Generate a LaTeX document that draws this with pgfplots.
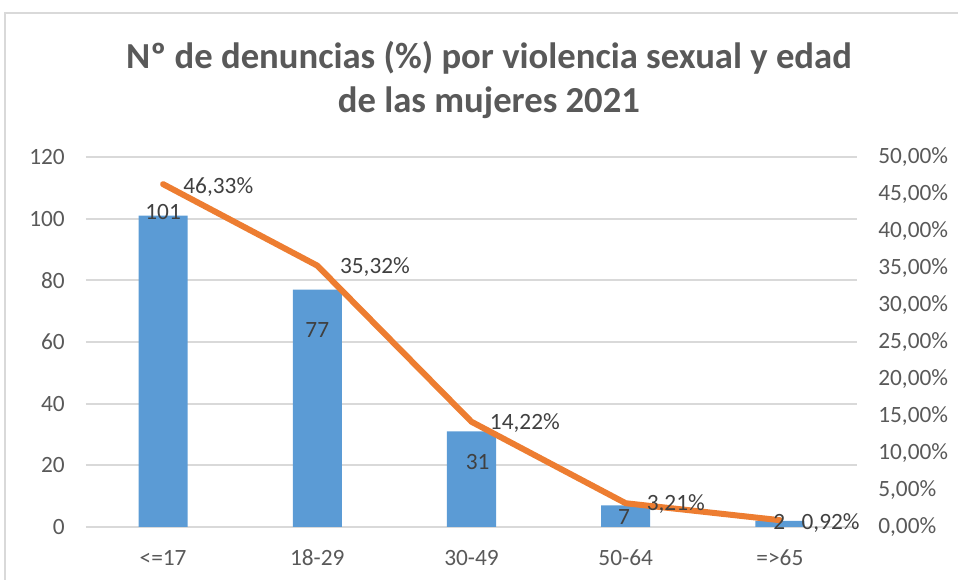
\documentclass[border=0pt]{standalone}
\usepackage{pgfplots}
\pgfplotsset{compat=1.18}
\usepackage{fontspec}
\setmainfont{Carlito}
\definecolor{barblue}{HTML}{5B9BD5}
\definecolor{lineor}{HTML}{ED7D31}
\definecolor{gridg}{HTML}{D9D9D9}
\definecolor{tickg}{HTML}{595959}
\definecolor{labg}{HTML}{404040}
\begin{document}
\begin{tikzpicture}
\useasboundingbox (0pt,0pt) rectangle (718.5pt,435pt);
\draw[gridg, line width=1.5pt] (3.75pt,-3.75pt) -- (3.75pt,425.25pt) -- (723.75pt,425.25pt);
\node[font=\bfseries\fontsize{27.5}{33}\selectfont, text=tickg, align=center] at (366.75pt,375pt) {Nº de denuncias (\%) por violencia sexual y edad\\de las mujeres 2021};
\pgfplotsset{
  common/.style={at={(64.5pt,39.75pt)}, anchor=south west, scale only axis,
    width=578.25pt, height=277.5pt, xmin=-0.5, xmax=4.5, clip=false,
    axis line style={draw=none}, major tick length=0pt,
    tick label style={font=\fontsize{17.5}{21}\selectfont, text=tickg, inner sep=0pt},
    /pgf/number format/assume math mode=true}
}
\begin{axis}[common, ymin=0, ymax=120, ytick={0,20,40,60,80,100,120},
  xtick={0,1,2,3,4}, xticklabels={{<=17},{18-29},{30-49},{50-64},{=>65}},
  ymajorgrids, grid style={gridg, line width=1.5pt},
  axis y line*=left, axis x line*=bottom,
  yticklabel style={anchor=east, xshift=-15.75pt},
  xticklabel style={anchor=center, yshift=-23pt}]
\addplot[ybar, bar width=36.75pt, fill=barblue, draw=none] coordinates {(0,101) (1,77) (2,31) (3,7) (4,2)};
\end{axis}
\begin{axis}[common, ymin=0, ymax=0.5,
  ytick={0,0.05,0.1,0.15,0.2,0.25,0.3,0.35,0.4,0.45,0.5},
  yticklabels={{0,00\%},{5,00\%},{10,00\%},{15,00\%},{20,00\%},{25,00\%},{30,00\%},{35,00\%},{40,00\%},{45,00\%},{50,00\%}},
  axis y line*=right, hide x axis,
  yticklabel style={anchor=west, xshift=15.75pt}]
\addplot[lineor, line width=4.5pt, line join=round, line cap=round] coordinates {(0,0.4633) (1,0.3532) (2,0.1422) (3,0.0321) (4,0.0092)};
\begin{scope}[every node/.style={font=\fontsize{17.5}{21}\selectfont, text=labg, inner sep=0pt}]
\node at (axis cs:0,0.426) {101};
\node at (axis cs:1,0.266) {77};
\node at (axis cs:2.04,0.088) {31};
\node at (axis cs:2.99,0.0135) {7};
\node at (axis cs:3.996,0.0067) {2};
\node[anchor=west] at (axis cs:0.13,0.4596) {46,33\%};
\node[anchor=west] at (axis cs:1.146,0.351) {35,32\%};
\node[anchor=west] at (axis cs:2.118,0.140) {14,22\%};
\node[anchor=west] at (axis cs:3.135,0.0316) {3,21\%};
\node[anchor=west] at (axis cs:4.139,0.0054) {0,92\%};
\end{scope}
\end{axis}
\end{tikzpicture}
\end{document}
